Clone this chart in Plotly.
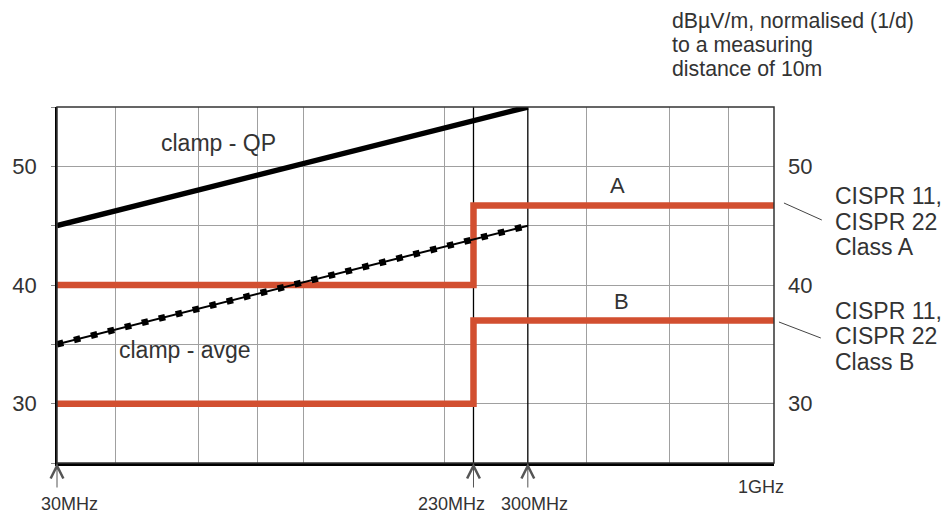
import math
import plotly.graph_objects as go

# ---- data ----
grid_freqs = [40, 60, 80, 100, 200, 400, 600, 800]          # MHz, grey grid lines
marker_freqs = [230, 300]                                     # MHz, black vertical lines
y_grid = [25, 30, 35, 40, 45, 50, 55]
y_grid_text = ["", "30", "", "40", "", "50", ""]
y_right_ticks = [30, 40, 50]

qp_freq = [30, 300]
qp_level = [45, 55]
avg_freq = [30, 300]
avg_level = [35, 45]

classA_freq = [30, 230, 230, 1000]
classA_level = [40, 40, 46.7, 46.7]
classB_freq = [30, 230, 230, 1000]
classB_level = [30, 30, 37, 37]

arrow_freqs = [30, 230, 300]

RED = "#d24f30"
TXT = "#333333"
FONT = "Liberation Sans, Arial, sans-serif"
FS = 22

fig = go.Figure()

for f in marker_freqs:
    fig.add_trace(go.Scatter(x=[f, f], y=[25, 55], mode="lines",
                             line=dict(color="black", width=1.3), hoverinfo="skip"))

fig.add_trace(go.Scatter(x=classA_freq, y=classA_level, mode="lines",
                         line=dict(color=RED, width=6.5), name="Class A"))
fig.add_trace(go.Scatter(x=classB_freq, y=classB_level, mode="lines", yaxis="y2",
                         line=dict(color=RED, width=6.5), name="Class B"))

fig.add_trace(go.Scatter(x=qp_freq, y=qp_level, mode="lines",
                         line=dict(color="black", width=5.5), name="clamp - QP"))
fig.add_trace(go.Scatter(x=avg_freq, y=avg_level, mode="lines",
                         line=dict(color="black", width=2), name="clamp - avge"))
fig.add_trace(go.Scatter(x=avg_freq, y=avg_level, mode="lines",
                         line=dict(color="black", width=6.5, dash="6.5px,11px"),
                         hoverinfo="skip"))

ann = []
# in-plot labels (data coords; log axis uses log10)
ann.append(dict(x=math.log10(66), y=52.0, xref="x", yref="y", text="clamp - QP",
                showarrow=False, font=dict(size=FS + 1, color=TXT, family=FONT)))
ann.append(dict(x=math.log10(56), y=34.5, xref="x", yref="y", text="clamp - avge",
                showarrow=False, font=dict(size=FS + 1, color=TXT, family=FONT)))
ann.append(dict(x=math.log10(465), y=48.4, xref="x", yref="y", text="A",
                showarrow=False, font=dict(size=FS, color=TXT, family=FONT)))
ann.append(dict(x=math.log10(474), y=38.6, xref="x", yref="y", text="B",
                showarrow=False, font=dict(size=FS, color=TXT, family=FONT)))

# arrows under axis
for f in arrow_freqs:
    ann.append(dict(x=math.log10(f), y=25, xref="x", yref="y", text="",
                    showarrow=True, ax=0, ay=26, arrowhead=5, arrowsize=2.5,
                    arrowwidth=1, arrowcolor="#555555", standoff=0))

def px2paper(X, Y):
    return (X - 54) / 720.0, (463 - Y) / 356.0

def paper_text(X, Y, txt, size, xanchor="left"):
    px, py = px2paper(X, Y)
    ann.append(dict(x=px, y=py, xref="paper", yref="paper", text=txt, showarrow=False,
                    xanchor=xanchor, yanchor="middle",
                    font=dict(size=size, color=TXT, family=FONT)))

paper_text(67, 504, "30MHz", 18, "center")
paper_text(450, 504, "230MHz", 18, "center")
paper_text(533, 504, "300MHz", 18, "center")
paper_text(761, 487, "1GHz", 18, "center")

paper_text(670, 21, "dBµV/m, normalised (1/d)", 21.3)
paper_text(670, 45, "to a measuring", 21.3)
paper_text(670, 69, "distance of 10m", 21.3)

paper_text(833, 196, "CISPR 11,", FS + 1)
paper_text(833, 222, "CISPR 22", FS + 1)
paper_text(833, 247, "Class A", FS + 1)
paper_text(833, 311, "CISPR 11,", FS + 1)
paper_text(833, 336, "CISPR 22", FS + 1)
paper_text(833, 362, "Class B", FS + 1)

shapes = []
def leader(X0, Y0, X1, Y1):
    x0, y0 = px2paper(X0, Y0)
    x1, y1 = px2paper(X1, Y1)
    shapes.append(dict(type="line", xref="paper", yref="paper", x0=x0, y0=y0, x1=x1, y1=y1,
                       line=dict(color="#444444", width=1)))
leader(784, 203, 822, 220)
leader(779, 322, 821, 338)
# frame (top / right)
shapes.append(dict(type="rect", xref="paper", yref="paper", x0=0, y0=0, x1=1, y1=1,
                   line=dict(color="#333333", width=1.5), layer="above"))

fig.update_layout(
    width=948, height=516,
    margin=dict(l=54, r=174, t=107, b=53),
    paper_bgcolor="white", plot_bgcolor="white",
    showlegend=False,
    font=dict(family=FONT, color=TXT),
    xaxis=dict(type="log", range=[math.log10(30), 3], tickvals=grid_freqs,
               showticklabels=False, showgrid=True, gridcolor="#a0a0a0", gridwidth=1,
               ticks="", showline=True, linecolor="black", linewidth=2.5,
               zeroline=False),
    yaxis=dict(range=[25, 55], tickvals=y_grid, ticktext=y_grid_text,
               showgrid=True, gridcolor="#a0a0a0", gridwidth=1,
               ticks="outside", ticklen=4, tickcolor="#888888",
               showline=True, linecolor="black", linewidth=1.5, zeroline=False,
               tickfont=dict(size=FS, color=TXT, family=FONT), ticklabelstandoff=10),
    yaxis2=dict(range=[25, 55], tickvals=y_right_ticks, overlaying="y", side="right",
                showgrid=False, ticks="", showline=False, zeroline=False,
                tickfont=dict(size=FS, color=TXT, family=FONT), ticklabelstandoff=13),
    annotations=ann,
    shapes=shapes,
)

fig.write_html("out.html", config={"displayModeBar": False},
               post_script="document.body.style.margin='0';document.body.style.overflow='hidden';")
